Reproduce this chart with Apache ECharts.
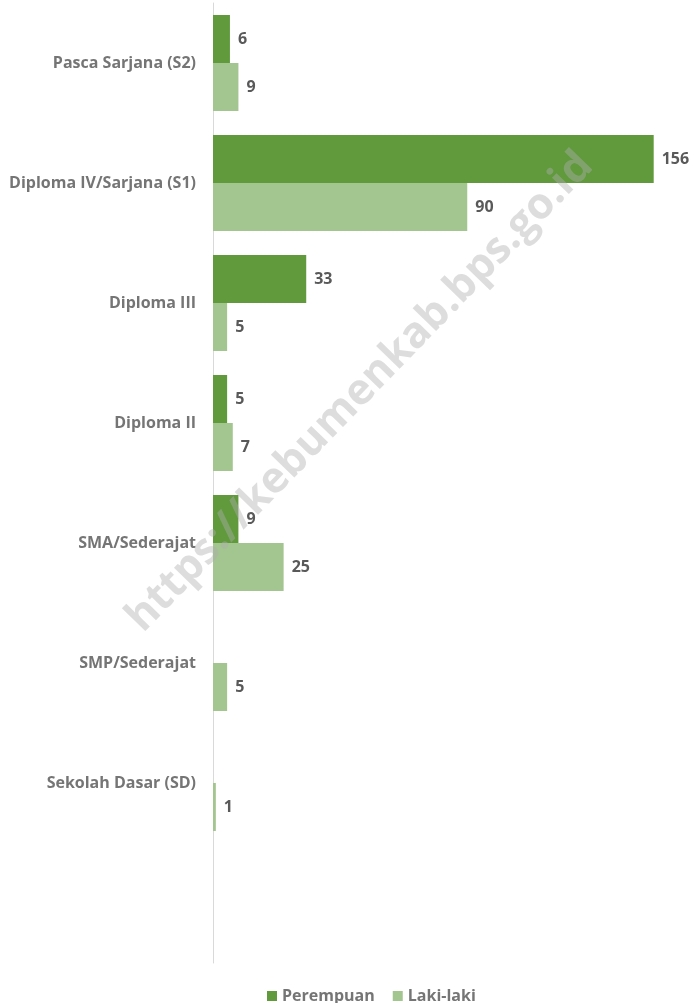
<!DOCTYPE html>
<html><head><meta charset="utf-8">
<script src="https://cdn.jsdelivr.net/npm/echarts@6/dist/echarts.min.js"></script>
<style>html,body{margin:0;padding:0;background:#fff}#c{width:694px;height:1003px}</style>
</head><body><div id="c"></div>
<script>
const categories = ['Pasca Sarjana (S2)', 'Diploma IV/Sarjana (S1)', 'Diploma III', 'Diploma II', 'SMA/Sederajat', 'SMP/Sederajat', 'Sekolah Dasar (SD)', ''];
const perempuan = [6, 156, 33, 5, 9, null, null, null];
const lakiLaki = [9, 90, 5, 7, 25, 5, 1, null];
const seriesNames = ['Perempuan', 'Laki-laki'];
const watermark = 'https://kebumenkab.bps.go.id';

const chart = echarts.init(document.getElementById('c'));
const FONT = '"Open Sans", "Noto Sans", sans-serif';
const labelCfg = {show: true, position: 'right', distance: 8, color: '#595959', fontWeight: 'bold', fontSize: 16, fontFamily: FONT};
chart.setOption({
  animation: false,
  grid: {left: 213, right: 29, top: 3, bottom: 40, containLabel: false},
  xAxis: {type: 'value', min: 0, max: 160, show: false},
  yAxis: {
    type: 'category', data: categories, inverse: true,
    axisLine: {show: true, lineStyle: {color: '#d9d9d9', width: 1}},
    axisTick: {show: false},
    axisLabel: {color: '#757575', fontWeight: 'bold', fontSize: 16, fontFamily: FONT, margin: 17}
  },
  legend: {
    top: 983, left: 262, itemWidth: 10, itemHeight: 10, itemGap: 18,
    icon: 'rect',
    textStyle: {color: '#757575', fontWeight: 'bold', fontSize: 16, fontFamily: FONT},
    data: seriesNames
  },
  series: [
    {name: seriesNames[0], type: 'bar', data: perempuan, barGap: '0%', barCategoryGap: '20%',
     itemStyle: {color: '#619A3D'}, label: labelCfg},
    {name: seriesNames[1], type: 'bar', data: lakiLaki, barGap: '0%', barCategoryGap: '20%',
     itemStyle: {color: '#A3C58F'}, label: labelCfg}
  ],
  graphic: [{
    type: 'text', x: 360, y: 392, rotation: Math.PI / 4 * 1.02, z: 100,
    style: {text: watermark, fill: 'rgba(175,175,175,0.42)', font: 'bold 43px "Open Sans", sans-serif',
            textAlign: 'center', textVerticalAlign: 'middle'}
  }]
});
</script></body></html>
